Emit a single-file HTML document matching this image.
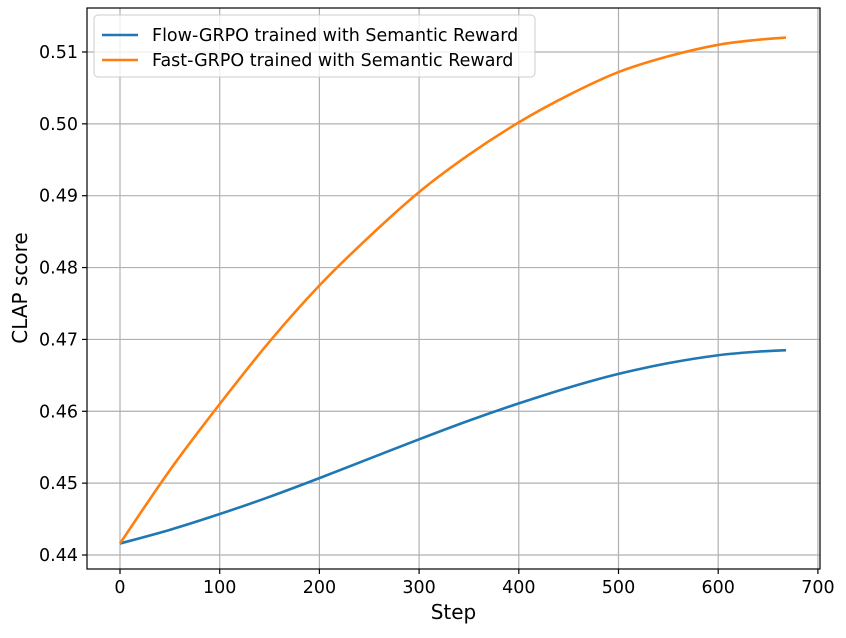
<!DOCTYPE html>
<html><head><meta charset="utf-8"><style>
body{margin:0;background:#fff;font-family:"DejaVu Sans","Liberation Sans",sans-serif}
</style></head><body>
<svg id="chart" width="846" height="634" xmlns="http://www.w3.org/2000/svg" font-family="DejaVu Sans, Liberation Sans, sans-serif"></svg>
<script>
const steps=[0,50,100,150,200,250,300,350,400,450,500,550,600,640,668];
const flowValues=[0.4416,0.4435,0.4457,0.4481,0.4507,0.4534,0.4561,0.4587,0.4611,0.4633,0.4652,0.4667,0.4678,0.4683,0.4685];
const fastValues=[0.4416,0.4518,0.4610,0.4697,0.4775,0.4843,0.4905,0.4957,0.5002,0.5040,0.5072,0.5094,0.5110,0.5117,0.5120];
const xTicks=[0,100,200,300,400,500,600,700];
const yTicks=[0.44,0.45,0.46,0.47,0.48,0.49,0.50,0.51];
const yTickLabels=["0.44","0.45","0.46","0.47","0.48","0.49","0.50","0.51"];
const seriesNames=["Flow-GRPO trained with Semantic Reward","Fast-GRPO trained with Semantic Reward"];
const svg=document.getElementById('chart');const NS="http://www.w3.org/2000/svg";
const L=87,R=820,T=8,B=569;
const xs=v=>120+v*0.997;
const ys=v=>555-(v-0.44)*7186;
function el(t,a,p){const e=document.createElementNS(NS,t);for(const k in a)e.setAttribute(k,a[k]);(p||svg).appendChild(e);return e;}
function smooth(pts){let d='M'+pts[0][0]+','+pts[0][1];
for(let i=0;i<pts.length-1;i++){const p0=pts[Math.max(0,i-1)],p1=pts[i],p2=pts[i+1],p3=pts[Math.min(pts.length-1,i+2)];
const c1=[p1[0]+(p2[0]-p0[0])/6,p1[1]+(p2[1]-p0[1])/6],c2=[p2[0]-(p3[0]-p1[0])/6,p2[1]-(p3[1]-p1[1])/6];
d+=' C'+c1+' '+c2+' '+p2;}return d;}
xTicks.forEach((t,i)=>{const x=xs(t);
const g=el('line',{x1:x,x2:x,y1:T,y2:B,stroke:'#b0b0b0','stroke-width':1.2});


el('line',{x1:x,x2:x,y1:B,y2:B+5,stroke:'#000','stroke-width':1.2});
const tx=el('text',{x:x,y:B+24,'text-anchor':'middle','font-size':17.5});tx.textContent=t;

});
yTicks.forEach((t,i)=>{const y=ys(t);
const g=el('line',{x1:L,x2:R,y1:y,y2:y,stroke:'#b0b0b0','stroke-width':1.2});


el('line',{x1:L-5,x2:L,y1:y,y2:y,stroke:'#000','stroke-width':1.2});
const tx=el('text',{x:L-9,y:y+6,'text-anchor':'end','font-size':17.5});tx.textContent=yTickLabels[i];

});
const colors=['#1f77b4','#ff7f0e'];
[flowValues,fastValues].forEach((vals,si)=>{
const p=el('path',{d:smooth(steps.map((s,i)=>[xs(s),ys(vals[i])])),fill:'none',stroke:colors[si],'stroke-width':2.6,'stroke-linejoin':'round'});

});
const fr=el('rect',{x:L,y:T,width:R-L,height:B-T,fill:'none',stroke:'#000','stroke-width':1.2});


const xl=el('text',{x:(L+R)/2,y:619,'text-anchor':'middle','font-size':20});xl.textContent='Step';


const yl=el('text',{x:0,y:0,'text-anchor':'middle','font-size':20,transform:'translate(27,288) rotate(-90)'});yl.textContent='CLAP score';


const lg=el('g',{});


el('rect',{x:94,y:15,width:441,height:62,rx:4,fill:'#fff','fill-opacity':0.8,stroke:'#ccc'},lg);
seriesNames.forEach((n,i)=>{const y=35+i*25;
el('line',{x1:102,x2:138,y1:y,y2:y,stroke:colors[i],'stroke-width':2.6},lg);
const t=el('text',{x:152,y:y+6,'font-size':17.5},lg);t.textContent=n;

});
</script>
</body></html>
